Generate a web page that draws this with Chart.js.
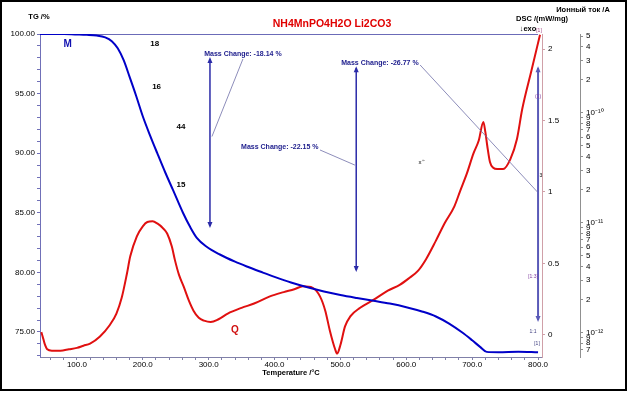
<!DOCTYPE html>
<html>
<head>
<meta charset="utf-8">
<script src="https://cdn.jsdelivr.net/npm/chart.js@4.4.0/dist/chart.umd.min.js"></script>
<style>
  html, body { margin: 0; padding: 0; background: #fff; }
</style>
</head>
<body>
<canvas id="chart" width="629" height="393"></canvas>
<script>
// TG curve (mass %, left axis)
const tgTemp = [44, 80, 100, 115, 130, 143, 153, 162, 171, 180, 190, 200, 211, 222, 234, 246, 261, 272, 282, 297, 317, 340, 360, 379, 400, 425, 450, 475, 500, 525, 550, 575, 600, 625, 645, 665, 685, 700, 712, 722, 740, 770, 800];
const tgValues = [100, 99.99, 99.96, 99.93, 99.87, 99.72, 99.4, 98.8, 97.8, 96.4, 94.8, 93.1, 91.5, 90.0, 88.4, 86.9, 85.0, 83.8, 82.9, 82.15, 81.5, 80.9, 80.45, 80.05, 79.62, 79.15, 78.75, 78.4, 78.1, 77.85, 77.62, 77.38, 77.08, 76.7, 76.3, 75.7, 74.95, 74.3, 73.75, 73.33, 73.3, 73.35, 73.3];

// DSC curve (mW/mg, first right axis)
const dscTemp = [46, 48, 51, 55, 62, 75, 88, 100, 110, 120, 135, 150, 160, 168, 176, 181, 191, 200, 207, 215, 222, 230, 237, 244, 249, 255, 262, 270, 277, 285, 293, 303, 315, 329, 350, 369, 393, 414, 430, 443, 458, 469, 477, 484, 492, 495, 500, 507, 515, 530, 550, 572, 590, 605, 618, 630, 645, 658, 673, 682, 692, 702, 710, 717, 720, 723, 727, 732, 738, 747, 758, 768, 776, 790, 803];
const dscValues = [0.02, -0.01, -0.06, -0.10, -0.11, -0.11, -0.10, -0.09, -0.075, -0.06, -0.01, 0.07, 0.15, 0.26, 0.43, 0.55, 0.69, 0.76, 0.79, 0.795, 0.78, 0.75, 0.71, 0.62, 0.52, 0.42, 0.34, 0.24, 0.17, 0.12, 0.10, 0.09, 0.11, 0.15, 0.19, 0.22, 0.27, 0.30, 0.32, 0.34, 0.33, 0.27, 0.17, 0.03, -0.10, -0.13, -0.07, 0.06, 0.13, 0.19, 0.245, 0.31, 0.35, 0.40, 0.45, 0.53, 0.66, 0.78, 0.90, 1.01, 1.13, 1.27, 1.36, 1.49, 1.42, 1.32, 1.21, 1.17, 1.16, 1.16, 1.23, 1.37, 1.58, 1.85, 2.10];

// top reference line at 100 %
const refTemp = [44, 800];
const refValues = [100, 100];

// ion current axis tick values (log scale)
const ionTicks = [7e-13, 8e-13, 9e-13, 1e-12, 2e-12, 3e-12, 4e-12, 5e-12, 6e-12, 7e-12, 8e-12, 9e-12,
  1e-11, 2e-11, 3e-11, 4e-11, 5e-11, 6e-11, 7e-11, 8e-11, 9e-11, 1e-10, 2e-10, 3e-10, 4e-10, 5e-10];

// mass change annotations (temperature, TG values)
const massLabels = ['Mass Change: -18.14 %', 'Mass Change: -22.15 %', 'Mass Change: -26.77 %'];
const massArrowT = [302, 524, 800];
const massArrowTop = [98.07, 97.3, 97.3];
const massArrowBottom = [83.73, 80.03, 75.84];
const massLabelT = [352, 408, 560];
const massLabelTG = [98.3, 90.5, 97.57];
const leaderFrom = [[352, 97.9], [469, 90.27], [621, 97.4]];
const leaderTo = [[305, 91.4], [522, 89.0], [799, 86.75]];

// ion mass labels next to the TG curve
const ionLabels = ['18', '16', '44', '15'];
const ionLabelT = [218, 221, 258, 258];
const ionLabelTG = [99.16, 95.55, 92.2, 87.33];

const toPoints = (xs, ys) => xs.map((t, i) => ({ x: t, y: ys[i] }));
const FONT = 'Liberation Sans, Arial, sans-serif';
Chart.defaults.font.family = FONT;
Chart.defaults.color = '#000';

const supers = { '-': '⁻', '0': '⁰', '1': '¹', '2': '²' };
function ionLabel(v) {
  const exp = Math.floor(Math.log10(v) + 1e-9);
  const mant = Math.round(v / Math.pow(10, exp));
  if (mant === 1) return '10' + String(exp).split('').map(c => supers[c] || c).join('');
  return String(mant);
}

function arrowHead(ctx, px, py, dir) {
  ctx.beginPath();
  ctx.moveTo(px, py);
  ctx.lineTo(px - 2.5, py - dir * 6);
  ctx.lineTo(px + 2.5, py - dir * 6);
  ctx.closePath();
  ctx.fill();
}

const annotations = {
  id: 'annotations',
  afterDatasetsDraw(chart) {
    const { ctx, scales: { x, y } } = chart;
    ctx.save();
    // leader lines
    ctx.strokeStyle = '#7070a8';
    ctx.lineWidth = 0.8;
    leaderFrom.forEach((p, i) => {
      ctx.beginPath();
      ctx.moveTo(x.getPixelForValue(p[0]), y.getPixelForValue(p[1]));
      ctx.lineTo(x.getPixelForValue(leaderTo[i][0]), y.getPixelForValue(leaderTo[i][1]));
      ctx.stroke();
    });
    // vertical mass change arrows
    massArrowT.forEach((t, i) => {
      const px = x.getPixelForValue(t);
      const top = y.getPixelForValue(massArrowTop[i]);
      const bot = y.getPixelForValue(massArrowBottom[i]);
      const col = i === 2 ? '#5a5ab8' : '#2a2aa8';
      ctx.strokeStyle = col;
      ctx.fillStyle = col;
      ctx.lineWidth = i === 2 ? 2 : 1.5;
      ctx.beginPath();
      ctx.moveTo(px, top + 2);
      ctx.lineTo(px, bot - 2);
      ctx.stroke();
      arrowHead(ctx, px, top, -1);
      arrowHead(ctx, px, bot, 1);
    });
    // mass change texts
    ctx.font = 'bold 7px ' + FONT;
    ctx.fillStyle = '#1c1c8c';
    ctx.textAlign = 'center';
    ctx.textBaseline = 'middle';
    massLabels.forEach((s, i) => {
      ctx.fillText(s, x.getPixelForValue(massLabelT[i]), y.getPixelForValue(massLabelTG[i]));
    });
    // ion mass numbers
    ctx.font = 'bold 8px ' + FONT;
    ctx.fillStyle = '#000';
    ionLabels.forEach((s, i) => {
      ctx.fillText(s, x.getPixelForValue(ionLabelT[i]), y.getPixelForValue(ionLabelTG[i]));
    });
    // curve names
    ctx.font = 'bold 10px ' + FONT;
    ctx.fillStyle = '#1010b0';
    ctx.fillText('M', x.getPixelForValue(86), y.getPixelForValue(99.16));
    ctx.fillStyle = '#d01010';
    ctx.fillText('Q', x.getPixelForValue(340), y.getPixelForValue(75.17));
    ctx.restore();
  },
  afterDraw(chart) {
    const { ctx, chartArea } = chart;
    ctx.save();
    ctx.textAlign = 'center';
    ctx.textBaseline = 'middle';
    ctx.fillStyle = '#e00000';
    ctx.font = 'bold 10.5px ' + FONT;
    ctx.fillText('NH4MnPO4H2O Li2CO3', 332, 24);
    ctx.fillStyle = '#000';
    ctx.font = 'bold 7.5px ' + FONT;
    ctx.fillText('TG /%', 39, 17);
    ctx.fillText('DSC /(mW/mg)', chartArea.right, 19);
    ctx.fillText('Ионный ток /A', 583, 10);
    ctx.fillText('↓exo', chartArea.right - 14, 29);
    // small marker texts
    ctx.font = '5px ' + FONT;
    ctx.fillStyle = '#a04080';
    ctx.fillText('[1]', chartArea.right - 3, 31);
    ctx.fillStyle = '#8040a0';
    ctx.fillText('(1)', chartArea.right - 4, 97);
    ctx.fillText('[1:3]', chartArea.right - 9, 277);
    ctx.fillStyle = '#404080';
    ctx.fillText('[1]', chartArea.right - 5, 344);
    ctx.fillText('1:1', chartArea.right - 9, 332);
    ctx.fillStyle = '#000';
    ctx.fillText('3', chartArea.right - 1, 176);
    ctx.font = '6px ' + FONT;
    ctx.fillText('x⁺˙', 422, 162);
    // outer frame
    ctx.strokeStyle = '#000';
    ctx.lineWidth = 2;
    ctx.strokeRect(1, 1, 625, 389);
    ctx.restore();
  }
};

new Chart(document.getElementById('chart'), {
  type: 'line',
  data: {
    datasets: [
      {
        label: 'TG',
        data: toPoints(tgTemp, tgValues),
        yAxisID: 'y',
        borderColor: '#0000c8',
        borderWidth: 2,
        pointRadius: 0,
        cubicInterpolationMode: 'monotone'
      },
      {
        label: 'DSC',
        data: toPoints(dscTemp, dscValues),
        yAxisID: 'dsc',
        borderColor: '#e01010',
        borderWidth: 2,
        pointRadius: 0,
        cubicInterpolationMode: 'monotone'
      },
      {
        label: 'ref',
        data: toPoints(refTemp, refValues),
        yAxisID: 'y',
        borderColor: '#3a3aa0',
        borderWidth: 1.5,
        pointRadius: 0
      }
    ]
  },
  options: {
    responsive: false,
    animation: false,
    layout: { padding: { top: 34, left: 0, right: 9, bottom: 0 } },
    plugins: { legend: { display: false }, tooltip: { enabled: false } },
    scales: {
      x: {
        type: 'linear',
        position: 'bottom',
        min: 44,
        max: 806,
        afterFit: s => { s.height = 36; },
        border: { color: '#8080a8', width: 1 },
        grid: { drawOnChartArea: false, tickLength: 3, color: '#8080a8' },
        ticks: {
          stepSize: 20,
          includeBounds: false,
          autoSkip: false,
          maxRotation: 0,
          padding: 0,
          font: { size: 8 },
          callback: v => (v % 100 === 0 ? v.toFixed(1) : '')
        },
        title: {
          display: true,
          text: 'Temperature /°C',
          font: { size: 7.5, weight: 'bold' },
          padding: { top: 0, bottom: 16 }
        }
      },
      y: {
        position: 'left',
        min: 72.9,
        max: 100,
        afterFit: s => { s.width = 40; },
        border: { color: '#7070b8', width: 1 },
        grid: { drawOnChartArea: false, tickLength: 3, color: '#7070b8' },
        ticks: {
          stepSize: 1,
          includeBounds: false,
          autoSkip: false,
          padding: 2,
          font: { size: 8 },
          callback: v => (v % 5 === 0 ? v.toFixed(2) : '')
        }
      },
      dsc: {
        position: 'right',
        weight: 0,
        min: -0.154,
        max: 2.105,
        afterFit: s => { s.width = 38; },
        border: { color: '#d0a0a8', width: 1 },
        grid: { drawOnChartArea: false, tickLength: 3, color: '#d0a0a8' },
        ticks: {
          stepSize: 0.5,
          includeBounds: false,
          autoSkip: false,
          padding: 3,
          font: { size: 8 },
          callback: v => String(v)
        }
      },
      ion: {
        type: 'logarithmic',
        position: 'right',
        weight: 1,
        min: 6.05e-13,
        max: 5.22e-10,
        afterFit: s => { s.width = 40; },
        afterBuildTicks: s => { s.ticks = ionTicks.map(v => ({ value: v })); },
        border: { color: '#909090', width: 1 },
        grid: { drawOnChartArea: false, tickLength: 3, color: '#909090' },
        ticks: {
          autoSkip: false,
          padding: 3,
          font: { size: 8 },
          callback: v => ionLabel(v)
        }
      }
    }
  },
  plugins: [annotations]
});
</script>
</body>
</html>
